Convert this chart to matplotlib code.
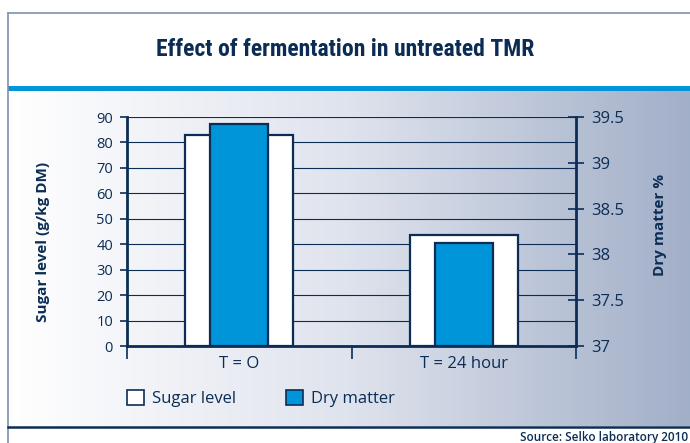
import matplotlib
matplotlib.use('Agg')
import matplotlib.pyplot as plt
import numpy as np
from matplotlib.colors import LinearSegmentedColormap
from matplotlib.patches import Rectangle, Patch
from matplotlib.lines import Line2D
from matplotlib import font_manager

# ---- data ----
categories = ['T = O', 'T = 24 hour']
sugar_level = [83, 43.5]          # g/kg DM (left axis)
dry_matter = [39.42, 38.12]       # % (right axis)
left_ticks = [0, 10, 20, 30, 40, 50, 60, 70, 80, 90]
right_ticks = [37, 37.5, 38, 38.5, 39, 39.5]
right_tick_labels = ['37', '37.5', '38', '38.5', '39', '39.5']
series_names = ['Sugar level', 'Dry matter']

NAVY = '#0b2d55'
BLUE = '#0095d8'
FRAME = '#7f91b0'

plt.rcParams['font.family'] = ['Open Sans', 'DejaVu Sans']

available = {f.name for f in font_manager.fontManager.ttflist}
title_family = None
for cand in ['Roboto Condensed', 'Liberation Sans Narrow', 'Open Sans Condensed', 'DejaVu Sans Condensed']:
    if cand in available:
        title_family = cand
        break
condensed = title_family is not None
if title_family is None:
    title_family = 'Roboto'

W, H = 690, 443
fig = plt.figure(figsize=(W / 100, H / 100), dpi=100)


def fx(px):
    return px / W


def fy(py):
    return 1 - py / H


# gradient background
bg = fig.add_axes([fx(8), fy(426), 1 - fx(8), fy(91) - fy(426)])
grad = np.linspace(0, 1, 256).reshape(1, -1)
cmap = LinearSegmentedColormap.from_list('g', [(0, '#ffffff'), (0.5, '#dfe3ed'), (1, '#a2afc8')])
bg.imshow(grad, aspect='auto', cmap=cmap, extent=[0, 1, 0, 1])
bg.axis('off')
bg.set_zorder(0)

# frame lines
fig.add_artist(Line2D([fx(8), fx(8)], [0, fy(13)], transform=fig.transFigure, color=FRAME, lw=1.2))
fig.add_artist(Line2D([fx(8), 1], [fy(13), fy(13)], transform=fig.transFigure, color=FRAME, lw=1.2))
fig.add_artist(Rectangle((fx(8), fy(91)), 1 - fx(8), fy(86) - fy(91), transform=fig.transFigure,
                         facecolor=BLUE, edgecolor='none'))
fig.add_artist(Line2D([fx(8), 1], [fy(426.5), fy(426.5)], transform=fig.transFigure, color=NAVY, lw=1.8))

# main axes
ax = fig.add_axes([fx(127), fy(346), fx(576) - fx(127), fy(117) - fy(346)])
ax.set_facecolor('none')
ax.set_zorder(2)
x = np.arange(len(categories))
ax.bar(x, sugar_level, width=0.48, color='white', edgecolor=NAVY, lw=1.6, zorder=3)
ax.set_xlim(-0.5, 1.5)
ax.set_ylim(0, 90)
ax.set_yticks(left_ticks)
ax.yaxis.grid(True, color=NAVY, lw=0.8)
ax.set_axisbelow(True)
ax.tick_params(axis='y', direction='out', length=5, width=1.2, color=NAVY, labelcolor=NAVY,
               labelsize=10.5, pad=5)
ax.set_xticks([-0.5, 0.5, 1.5])
ax.set_xticklabels([])
ax.tick_params(axis='x', which='major', direction='out', length=9, width=1.2, color=NAVY)
ax.set_xticks(x, minor=True)
ax.set_xticklabels(categories, minor=True)
ax.tick_params(axis='x', which='minor', length=0, labelsize=12, labelcolor=NAVY, pad=7)
for s in ['top', 'right']:
    ax.spines[s].set_visible(False)
for s in ['left', 'bottom']:
    ax.spines[s].set_color(NAVY)
    ax.spines[s].set_linewidth(2)

ax2 = ax.twinx()
ax2.bar(x, [v - 37 for v in dry_matter], bottom=37, width=0.26, color=BLUE, edgecolor=NAVY, lw=1.6, zorder=3)
ax2.set_ylim(37, 39.5)
ax2.set_yticks(right_ticks)
ax2.set_yticklabels(right_tick_labels)
ax2.tick_params(axis='y', direction='inout', length=12, width=1.2, color=NAVY, labelcolor=NAVY,
                labelsize=12, pad=5)
for s in ['top', 'left', 'bottom']:
    ax2.spines[s].set_visible(False)
ax2.spines['right'].set_color(NAVY)
ax2.spines['right'].set_linewidth(2)

# texts
fig.text(0.5, fy(49), 'Effect of fermentation in untreated TMR', ha='center', va='center',
         fontsize=17 if condensed else 14, fontweight='heavy' if condensed else 'black', color=NAVY,
         family=[title_family, 'DejaVu Sans'])
fig.text(fx(43), fy(242), 'Sugar level (g/kg DM)', rotation=90, ha='center', va='center',
         fontsize=11, fontweight='bold', color=NAVY)
fig.text(fx(660), fy(225), 'Dry matter %', rotation=90, ha='center', va='center',
         fontsize=11, fontweight='bold', color=NAVY)
fig.text(fx(688), fy(437), 'Source: Selko laboratory 2010', ha='right', va='center',
         fontsize=8.5, color=NAVY, fontweight='semibold')

handles = [Patch(facecolor='white', edgecolor=NAVY, lw=1.2, label=series_names[0]),
           Patch(facecolor=BLUE, edgecolor=NAVY, lw=1.2, label=series_names[1])]
fig.legend(handles=handles, loc='upper left', bbox_to_anchor=(fx(127), fy(390)), ncol=2,
           frameon=False, fontsize=12, handlelength=1.0, handleheight=1.0, handletextpad=0.5,
           columnspacing=3.0, borderpad=0, borderaxespad=0, labelcolor=NAVY)

fig.savefig('out.png', dpi=100)
